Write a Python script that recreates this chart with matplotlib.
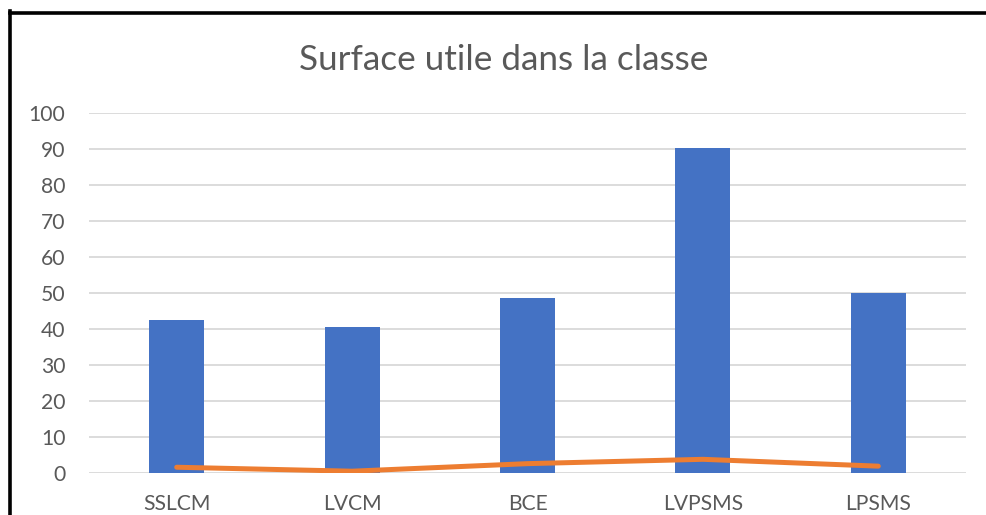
import matplotlib.pyplot as plt
from matplotlib.lines import Line2D

# Surface per class (bars) and secondary series (line)
categories = ["SSLCM", "LVCM", "BCE", "LVPSMS", "LPSMS"]
surface = [42.5, 40.6, 48.6, 90.3, 50.0]
second_series = [1.6, 0.5, 2.6, 3.8, 1.9]
yticks = list(range(0, 101, 10))

plt.rcParams['font.family'] = ['Lato', 'DejaVu Sans']

fig = plt.figure(figsize=(9.86, 5.15), dpi=100)
ax = fig.add_axes([89 / 986, 1 - 473 / 515, 877 / 986, 360 / 515])

x = range(len(categories))
ax.bar(x, surface, width=0.314, color="#4472c4", zorder=2)
ax.plot(x, second_series, color="#ed7d31", linewidth=3.6,
        solid_capstyle="round", solid_joinstyle="round", zorder=3)

ax.set_xlim(-0.5, len(categories) - 0.5)
ax.set_ylim(0, 100)
ax.set_yticks(yticks)
ax.set_xticks(list(x))
ax.set_xticklabels(categories)
ax.yaxis.grid(True, color="#d9d9d9", linewidth=1.3, zorder=0)
ax.set_axisbelow(True)
for s in ax.spines.values():
    s.set_visible(False)
ax.tick_params(axis="both", length=0, labelsize=15.2, colors="#595959")
ax.tick_params(axis="x", pad=15)
ax.tick_params(axis="y", pad=17)

fig.text(504 / 986, 1 - 60 / 515, "Surface utile dans la classe",
         ha="center", va="center", fontsize=25.3, color="#595959")

# black frame along top and left edges
fig.add_artist(Line2D([9.5 / 986, 1], [1 - 12.5 / 515] * 2,
                      transform=fig.transFigure, color="black", linewidth=2.6))
fig.add_artist(Line2D([9.5 / 986] * 2, [0, 1 - 11 / 515],
                      transform=fig.transFigure, color="black", linewidth=2.6))

fig.savefig("out.png", dpi=100, facecolor="white")
